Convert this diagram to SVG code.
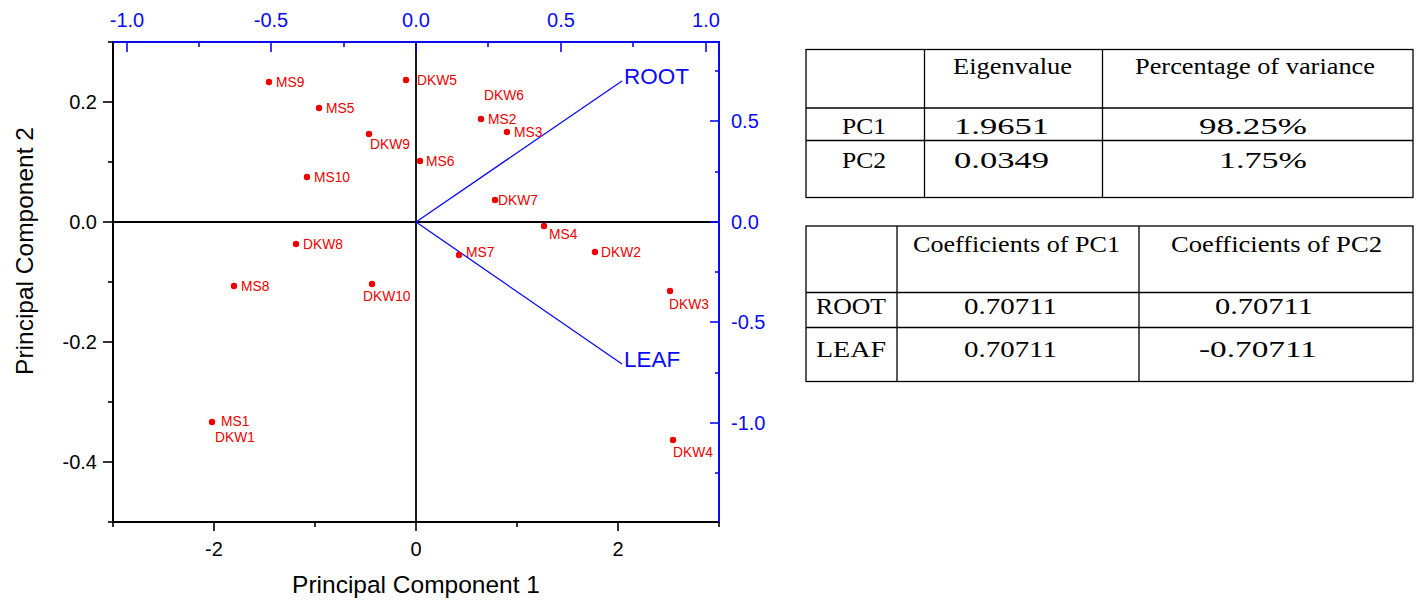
<svg xmlns="http://www.w3.org/2000/svg" width="1416" height="600" viewBox="0 0 1416 600">
<style>
.bg{fill:#ffffff}
.ax{stroke:#000;stroke-width:2;fill:none}
.bax{stroke:#0a0af5;stroke-width:2;fill:none}
.tk{stroke:#000;stroke-width:1.6}
.btk{stroke:#0a0af5;stroke-width:1.6}
.tl{font-family:"Liberation Sans",Arial,sans-serif;font-size:20px;fill:#000}
.btl{font-family:"Liberation Sans",Arial,sans-serif;font-size:20px;fill:#0a0af5}
.title{font-family:"Liberation Sans",Arial,sans-serif;font-size:24.5px;fill:#000;text-anchor:middle}
.pt{fill:#ee0000}
.pl{font-family:"Liberation Sans",Arial,sans-serif;font-size:13.8px;fill:#ee0000}
.vec{stroke:#0a0af5;stroke-width:1.3;fill:none}
.vl{font-family:"Liberation Sans",Arial,sans-serif;font-size:22.5px;fill:#0a0af5}
.cell{fill:#fff;stroke:#000;stroke-width:1.3}
.tt{font-family:"Liberation Serif","Times New Roman",serif;font-size:23px;fill:#000}
</style>
<rect class="bg" x="0" y="0" width="1416" height="600"/>

<g id="plot">
  <line class="ax" x1="416" y1="42" x2="416" y2="522" style="stroke-width:1.8"/>
  <line class="ax" x1="113" y1="222" x2="719" y2="222" style="stroke-width:1.8"/>
  <line class="ax" x1="113" y1="41" x2="113" y2="523"/>
  <line class="ax" x1="112" y1="522" x2="720" y2="522"/>
  <line class="bax" x1="112" y1="42" x2="720" y2="42"/>
  <line class="bax" x1="719" y1="41" x2="719" y2="523"/>

  <g class="tk">
    <line x1="103" y1="102" x2="113" y2="102"/>
    <line x1="103" y1="222" x2="113" y2="222"/>
    <line x1="103" y1="342" x2="113" y2="342"/>
    <line x1="103" y1="462" x2="113" y2="462"/>
    <line x1="108" y1="42" x2="113" y2="42"/>
    <line x1="108" y1="162" x2="113" y2="162"/>
    <line x1="108" y1="282" x2="113" y2="282"/>
    <line x1="108" y1="402" x2="113" y2="402"/>
    <line x1="108" y1="522" x2="113" y2="522"/>
  </g>
  <g class="tk">
    <line x1="214" y1="522" x2="214" y2="531"/>
    <line x1="416" y1="522" x2="416" y2="531"/>
    <line x1="618" y1="522" x2="618" y2="531"/>
    <line x1="113" y1="522" x2="113" y2="527"/>
    <line x1="315" y1="522" x2="315" y2="527"/>
    <line x1="517" y1="522" x2="517" y2="527"/>
    <line x1="719" y1="522" x2="719" y2="527"/>
  </g>
  <g class="btk">
    <line x1="127" y1="42" x2="127" y2="52"/>
    <line x1="271" y1="42" x2="271" y2="52"/>
    <line x1="416" y1="42" x2="416" y2="52"/>
    <line x1="561" y1="42" x2="561" y2="52"/>
    <line x1="706" y1="42" x2="706" y2="52"/>
    <line x1="199" y1="42" x2="199" y2="47"/>
    <line x1="344" y1="42" x2="344" y2="47"/>
    <line x1="488" y1="42" x2="488" y2="47"/>
    <line x1="633" y1="42" x2="633" y2="47"/>
  </g>
  <g class="btk">
    <line x1="710" y1="121" x2="719" y2="121"/>
    <line x1="710" y1="222" x2="719" y2="222"/>
    <line x1="710" y1="322" x2="719" y2="322"/>
    <line x1="710" y1="423" x2="719" y2="423"/>
    <line x1="715" y1="71" x2="719" y2="71"/>
    <line x1="715" y1="172" x2="719" y2="172"/>
    <line x1="715" y1="272" x2="719" y2="272"/>
    <line x1="715" y1="373" x2="719" y2="373"/>
    <line x1="715" y1="473" x2="719" y2="473"/>
  </g>

  <g class="tl" text-anchor="end">
    <text x="97" y="109">0.2</text>
    <text x="97" y="229">0.0</text>
    <text x="97" y="349">-0.2</text>
    <text x="97" y="469">-0.4</text>
  </g>
  <g class="tl" text-anchor="middle">
    <text x="214" y="556">-2</text>
    <text x="416" y="556">0</text>
    <text x="618" y="556">2</text>
  </g>
  <g class="btl" text-anchor="middle">
    <text x="127" y="27">-1.0</text>
    <text x="271" y="27">-0.5</text>
    <text x="416" y="27">0.0</text>
    <text x="561" y="27">0.5</text>
    <text x="706" y="27">1.0</text>
  </g>
  <g class="btl">
    <text x="731" y="128">0.5</text>
    <text x="731" y="229">0.0</text>
    <text x="731" y="329">-0.5</text>
    <text x="731" y="430">-1.0</text>
  </g>

  <text class="title" x="416" y="593">Principal Component 1</text>
  <text class="title" transform="translate(33,251) rotate(-90)">Principal Component 2</text>
</g>

<g id="connectors">
  <line class="vec" x1="416" y1="222" x2="622" y2="81"/>
  <line class="vec" x1="416" y1="222" x2="622" y2="364"/>
</g>
<g id="ROOT"><text class="vl" x="624" y="84">ROOT</text></g>
<g id="LEAF"><text class="vl" x="624" y="367">LEAF</text></g>

<g id="points">
  <g id="MS9"><circle class="pt" cx="269" cy="82" r="3.2"/><text class="pl" x="276" y="87">MS9</text></g>
  <g id="MS5"><circle class="pt" cx="319" cy="108" r="3.2"/><text class="pl" x="326" y="113">MS5</text></g>
  <g id="DKW5"><circle class="pt" cx="406" cy="80" r="3.2"/><text class="pl" x="417" y="85">DKW5</text></g>
  <g id="DKW6"><text class="pl" x="484" y="100">DKW6</text></g>
  <g id="MS2"><circle class="pt" cx="481" cy="119" r="3.2"/><text class="pl" x="488" y="124">MS2</text></g>
  <g id="MS3"><circle class="pt" cx="507" cy="132" r="3.2"/><text class="pl" x="514" y="137">MS3</text></g>
  <g id="DKW9"><circle class="pt" cx="369" cy="134" r="3.2"/><text class="pl" x="370" y="149">DKW9</text></g>
  <g id="MS6"><circle class="pt" cx="420" cy="161" r="3.2"/><text class="pl" x="426" y="166">MS6</text></g>
  <g id="MS10"><circle class="pt" cx="307" cy="177" r="3.2"/><text class="pl" x="314" y="182">MS10</text></g>
  <g id="DKW7"><circle class="pt" cx="495" cy="200" r="3.2"/><text class="pl" x="498" y="205">DKW7</text></g>
  <g id="DKW8"><circle class="pt" cx="296" cy="244" r="3.2"/><text class="pl" x="303" y="249">DKW8</text></g>
  <g id="MS4"><circle class="pt" cx="544" cy="226" r="3.2"/><text class="pl" x="549" y="239">MS4</text></g>
  <g id="MS7"><circle class="pt" cx="459" cy="255" r="3.2"/><text class="pl" x="466" y="257">MS7</text></g>
  <g id="DKW2"><circle class="pt" cx="595" cy="252" r="3.2"/><text class="pl" x="601" y="257">DKW2</text></g>
  <g id="MS8"><circle class="pt" cx="234" cy="286" r="3.2"/><text class="pl" x="241" y="291">MS8</text></g>
  <g id="DKW10"><circle class="pt" cx="372" cy="284" r="3.2"/><text class="pl" x="363" y="301">DKW10</text></g>
  <g id="DKW3"><circle class="pt" cx="670" cy="291" r="3.2"/><text class="pl" x="669" y="309">DKW3</text></g>
  <g id="MS1"><circle class="pt" cx="212" cy="422" r="3.2"/><text class="pl" x="221" y="426">MS1</text></g>
  <g id="DKW1"><text class="pl" x="215" y="442">DKW1</text></g>
  <g id="DKW4"><circle class="pt" cx="673" cy="440" r="3.2"/><text class="pl" x="673" y="457">DKW4</text></g>
</g>

<g id="table1">
  <rect class="cell" x="806" y="49.5" width="607" height="148"/>
  <line class="cell" x1="806" y1="108" x2="1413" y2="108"/>
  <line class="cell" x1="806" y1="140.5" x2="1413" y2="140.5"/>
  <line class="cell" x1="924.5" y1="49.5" x2="924.5" y2="197.5"/>
  <line class="cell" x1="1102.5" y1="49.5" x2="1102.5" y2="197.5"/>
  <text class="tt" x="953" y="74" textLength="119" lengthAdjust="spacingAndGlyphs">Eigenvalue</text>
  <text class="tt" x="1135" y="74" textLength="240" lengthAdjust="spacingAndGlyphs">Percentage of variance</text>
  <text class="tt" x="842" y="134" textLength="44" lengthAdjust="spacingAndGlyphs">PC1</text>
  <text class="tt" x="954" y="134" textLength="95" lengthAdjust="spacingAndGlyphs">1.9651</text>
  <text class="tt" x="1199" y="134" textLength="108" lengthAdjust="spacingAndGlyphs">98.25%</text>
  <text class="tt" x="842" y="168" textLength="44" lengthAdjust="spacingAndGlyphs">PC2</text>
  <text class="tt" x="954" y="168" textLength="95" lengthAdjust="spacingAndGlyphs">0.0349</text>
  <text class="tt" x="1219" y="168" textLength="88" lengthAdjust="spacingAndGlyphs">1.75%</text>
</g>

<g id="table2">
  <rect class="cell" x="806" y="226" width="607" height="155.5"/>
  <line class="cell" x1="806" y1="292.5" x2="1413" y2="292.5"/>
  <line class="cell" x1="806" y1="327.5" x2="1413" y2="327.5"/>
  <line class="cell" x1="897" y1="226" x2="897" y2="381.5"/>
  <line class="cell" x1="1139" y1="226" x2="1139" y2="381.5"/>
  <text class="tt" x="913" y="252" textLength="207" lengthAdjust="spacingAndGlyphs">Coefficients of PC1</text>
  <text class="tt" x="1171" y="252" textLength="211" lengthAdjust="spacingAndGlyphs">Coefficients of PC2</text>
  <text class="tt" x="816" y="314" textLength="70" lengthAdjust="spacingAndGlyphs">ROOT</text>
  <text class="tt" x="964" y="314" textLength="93" lengthAdjust="spacingAndGlyphs">0.70711</text>
  <text class="tt" x="1215" y="314" textLength="98" lengthAdjust="spacingAndGlyphs">0.70711</text>
  <text class="tt" x="816" y="357" textLength="70" lengthAdjust="spacingAndGlyphs">LEAF</text>
  <text class="tt" x="964" y="357" textLength="93" lengthAdjust="spacingAndGlyphs">0.70711</text>
  <text class="tt" x="1199" y="357" textLength="118" lengthAdjust="spacingAndGlyphs">-0.70711</text>
</g>
</svg>
